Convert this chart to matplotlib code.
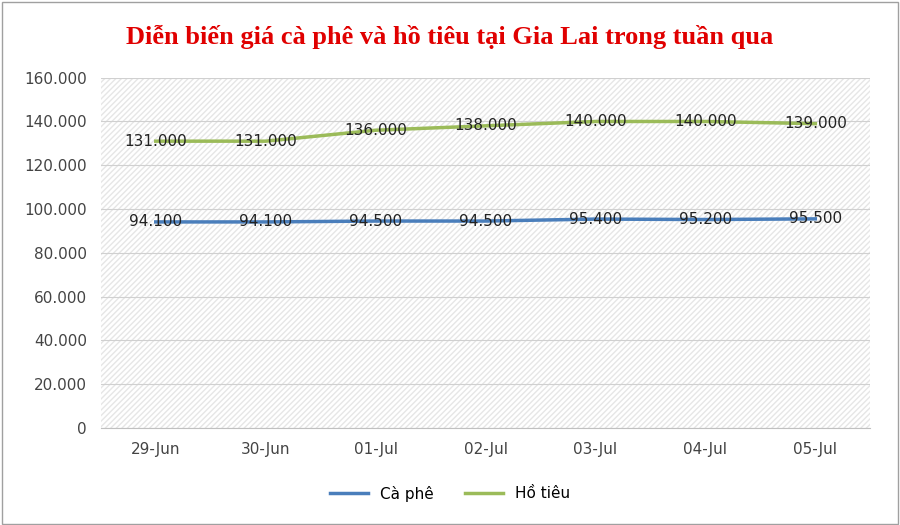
import matplotlib
matplotlib.use("Agg")
import matplotlib.pyplot as plt
from matplotlib.ticker import FuncFormatter
from matplotlib.patches import Rectangle

dates = ["29-Jun", "30-Jun", "01-Jul", "02-Jul", "03-Jul", "04-Jul", "05-Jul"]
ca_phe = [94100, 94100, 94500, 94500, 95400, 95200, 95500]
ho_tieu = [131000, 131000, 136000, 138000, 140000, 140000, 139000]

def fmt(v):
    return "0" if v == 0 else f"{int(v):,}".replace(",", ".")

fig = plt.figure(figsize=(9, 5.25), dpi=100)
fig.patches.append(Rectangle((0.002, 0.002), 0.996, 0.994, transform=fig.transFigure,
                             fill=False, edgecolor="#a0a0a0", linewidth=1))
ax = fig.add_axes([0.112, 0.185, 0.855, 0.667])
ax.add_patch(Rectangle((0, 0), 1, 1, transform=ax.transAxes, facecolor="white",
                       hatch="//////", edgecolor="#e6e6e6", linewidth=0, zorder=0))
x = range(len(dates))
ax.plot(x, ca_phe, color="#4a7ebb", lw=2.5, label="Cà phê", zorder=3)
ax.plot(x, ho_tieu, color="#9bbb59", lw=2.5, label="Hồ tiêu", zorder=3)
for xi, v in zip(x, ca_phe):
    ax.text(xi, v, fmt(v), ha="center", va="center", fontsize=11, color="#222222", zorder=4)
for xi, v in zip(x, ho_tieu):
    ax.text(xi, v, fmt(v), ha="center", va="center", fontsize=11, color="#222222", zorder=4)
ax.set_xlim(-0.5, 6.5)
ax.set_ylim(0, 160000)
ax.set_yticks(range(0, 160001, 20000))
ax.yaxis.set_major_formatter(FuncFormatter(lambda v, p: fmt(v)))
ax.set_xticks(list(x))
ax.set_xticklabels(dates)
ax.grid(axis="y", color="#d0d0d0", lw=0.8, zorder=1)
for s in ["top", "right", "left"]:
    ax.spines[s].set_visible(False)
ax.spines["bottom"].set_color("#c0c0c0")
ax.tick_params(length=0, labelsize=11, colors="#444444", pad=10)
fig.text(0.5, 0.93, "Diễn biến giá cà phê và hồ tiêu tại Gia Lai trong tuần qua",
         ha="center", va="center", color="#e00000", fontsize=19, fontweight="bold",
         family="Liberation Serif")
fig.legend(loc="center", bbox_to_anchor=(0.5, 0.06), ncol=2, frameon=False, fontsize=11,
           handlelength=2.5, columnspacing=2)
fig.savefig("out.png", dpi=100)
